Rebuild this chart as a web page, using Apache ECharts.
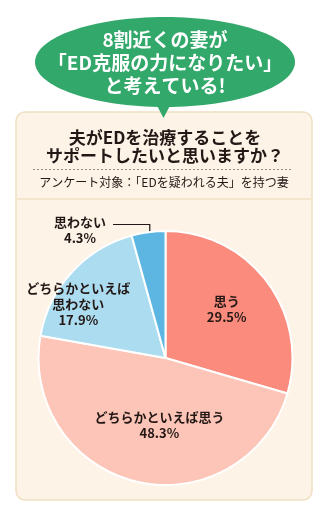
<!DOCTYPE html>
<html>
<head>
<meta charset="utf-8">
<script src="https://cdn.jsdelivr.net/npm/echarts@6/dist/echarts.min.js"></script>
<style>
html,body{margin:0;padding:0;background:#fff;}
#c{width:329px;height:517px;}
</style>
</head>
<body>
<div id="c"></div>
<script>
// ---- data ----
const categories = ['思う', 'どちらかといえば思う', 'どちらかといえば思わない', '思わない'];
const labelNames = ['思う', 'どちらかといえば思う', 'どちらかといえば\n思わない', '思わない'];
const values = [29.5, 48.3, 17.9, 4.3];
const colors = ['#fb8b7c', '#fcc5b7', '#acdcf0', '#5db6e2'];
const bubbleLines = ['8割近くの妻が', '「ED克服の力になりたい」', 'と考えている!'];
const titleLines = ['夫がEDを治療することを', 'サポートしたいと思いますか？'];
const subtitle = 'アンケート対象：「EDを疑われる夫」を持つ妻';

// ---- layout ----
const FONT = '"Noto Sans CJK JP", "Noto Sans", sans-serif';
const CX = 165.5, CY = 358, R = 127;
const labelShift = [[8, -9], [9, 2], [-38, -9], [0, 0]];

const chart = echarts.init(document.getElementById('c'), null, {renderer: 'canvas'});

const graphics = [
  // panel
  {type: 'rect', shape: {x: 16, y: 112, width: 296, height: 388, r: 9},
   style: {fill: '#fdf3e7', stroke: '#f0e0c4', lineWidth: 1.5}, z: 0},
  {type: 'line', shape: {x1: 17, y1: 199, x2: 311, y2: 199},
   style: {stroke: '#f0e0c4', lineWidth: 1.5}, z: 1},
  {type: 'line', shape: {x1: 33, y1: 169.5, x2: 293, y2: 169.5},
   style: {stroke: '#777', lineWidth: 0.8, lineDash: [2, 2]}, z: 1},
  // bubble
  {type: 'ellipse', shape: {cx: 165, cy: 62, rx: 130, ry: 45},
   style: {fill: '#33a86b'}, z: 2},
  {type: 'polygon', shape: {points: [[154, 100], [173, 100], [163.5, 118]]},
   style: {fill: '#33a86b'}, z: 2}
];
bubbleLines.forEach((t, i) => {
  graphics.push({type: 'text', x: 165, y: 40 + i * 23, z: 3,
    style: {text: t, fill: '#fff', font: 'bold 19px ' + FONT, textAlign: 'center', textVerticalAlign: 'middle'}});
});
titleLines.forEach((t, i) => {
  graphics.push({type: 'text', x: 165, y: 137.5 + i * 18, z: 3,
    style: {text: t, fill: '#231815', font: 'bold 17px ' + FONT, textAlign: 'center', textVerticalAlign: 'middle'}});
});
graphics.push({type: 'text', x: 164, y: 182.5, z: 3,
  style: {text: subtitle, fill: '#231815', font: '12px ' + FONT, textAlign: 'center', textVerticalAlign: 'middle'}});

const seriesData = categories.map((c, i) => {
  const d = {name: c, value: values[i], itemStyle: {color: colors[i]}};
  if (i === 3) {
    d.label = {position: 'outside'};
    d.labelLine = {show: true, length: 10, length2: 20, lineStyle: {color: '#231815', width: 1.2}};
  }
  return d;
});

chart.setOption({
  animation: false,
  graphic: graphics,
  series: [{
    type: 'pie',
    center: [CX, CY],
    radius: R,
    startAngle: 90,
    clockwise: true,
    itemStyle: {borderColor: '#fff', borderWidth: 2},
    label: {
      show: true,
      position: 'inside',
      color: '#231815',
      fontFamily: FONT,
      fontWeight: 'bold',
      fontSize: 13,
      lineHeight: 16,
      formatter: p => labelNames[p.dataIndex] + '\n' + values[p.dataIndex].toFixed(1) + '%'
    },
    labelLine: {show: false},
    labelLayout: function (params) {
      const i = params.dataIndex;
      if (i === 3) {
        const p0 = params.labelLinePoints ? params.labelLinePoints[0] : [CX, CY - R];
        const ax = p0[0] - (p0[0] - CX) * 0.08;
        const ay = p0[1] - (p0[1] - CY) * 0.08;
        const lineY = 224.5;
        const lx = 80, ly = 230;
        return {
          x: lx, y: ly, align: 'center', verticalAlign: 'middle',
          labelLinePoints: [[ax, ay], [ax, lineY], [113, lineY]]
        };
      }
      return {dx: labelShift[i][0], dy: labelShift[i][1]};
    },
    data: seriesData
  }]
});
</script>
</body>
</html>
